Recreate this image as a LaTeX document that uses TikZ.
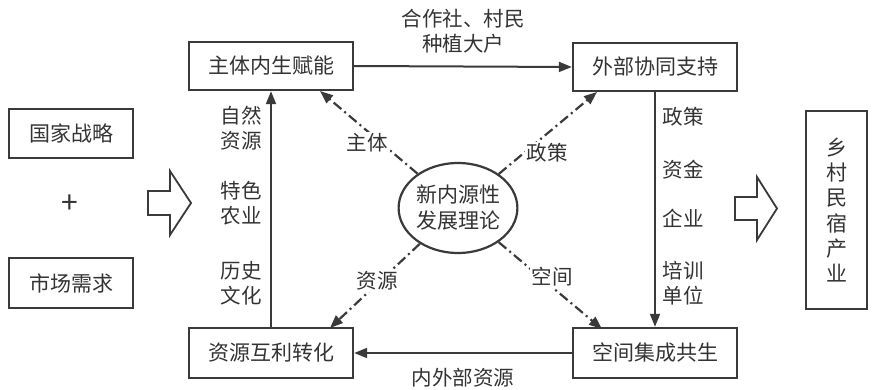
\documentclass[tikz,border=0pt]{standalone}
\usepackage{fontspec}
\setmainfont{Noto Sans CJK SC}
\usetikzlibrary{arrows.meta,shapes.geometric,calc}
\definecolor{ink}{HTML}{3A3A3A}
\definecolor{txt}{HTML}{333333}
\tikzset{
  box/.style={draw=ink,line width=2.4pt,minimum width=164pt,minimum height=48pt,inner sep=0pt,text=txt,font=\fontsize{21}{25}\selectfont},
  lbl/.style={text=txt,font=\fontsize{20.5}{25}\selectfont,align=center,inner sep=1pt},
  dlbl/.style={lbl,fill=white,inner sep=2pt},
  arr/.style={draw=ink,line width=2pt,-{Triangle[length=13pt,width=10pt]}},
  darr/.style={arr,line width=2.2pt,dash pattern=on 10pt off 4pt on 2pt off 4pt},
  blockarrow/.style={draw=ink,line width=1.8pt,fill=white,line join=miter}
}
\begin{document}
\begin{tikzpicture}[x=1pt,y=-1pt]
\useasboundingbox (0,0) rectangle (873,390);
% main boxes
\node[box] (A) at (271,66) {主体内生赋能};
\node[box] (B) at (655,67) {外部协同支持};
\node[box,minimum height=50pt] (C) at (655,353) {空间集成共生};
\node[box,minimum height=50pt] (D) at (271,353) {资源互利转化};
\node[draw=ink,line width=2.2pt,ellipse,minimum width=118pt,minimum height=90pt,inner sep=0pt,text=txt,font=\fontsize{21}{26}\selectfont,align=center] (E) at (458,208) {新内源性\\发展理论};
% left boxes
\node[box,minimum width=124pt,minimum height=49pt] (L1) at (71,133.5) {国家战略};
\node[lbl,font=\fontsize{30}{30}\selectfont] (plus) at (70,204) {+};
\node[box,minimum width=124pt,minimum height=50pt] (L2) at (71,283) {市场需求};
% right box
\node[box,minimum width=61pt,minimum height=198pt,align=center,font=\fontsize{21}{25.2}\selectfont] (R) at (836.5,210) {乡\\村\\民\\宿\\产\\业};
% block arrows
\draw[blockarrow] (148,191) -- (170,191) -- (170,171) -- (191,203) -- (170,235) -- (170,215) -- (148,215) -- cycle;
\draw[blockarrow] (735,197) -- (757,197) -- (757,177) -- (777,208.5) -- (757,240) -- (757,220) -- (735,220) -- cycle;
% solid connectors
\draw[arr] (A.east) -- (B.west);
\node[lbl] (t1) at (463,31) {合作社、村民\\种植大户};
\draw[arr] (B.south) -- (C.north);
\draw[arr] (C.west) -- (D.east);
\node[lbl] (t2) at (463,378) {内外部资源};
\draw[arr] (D.north) -- (A.south);
% labels along vertical arrows
\node[lbl] (l1) at (241,128) {自然\\资源};
\node[lbl] (l2) at (241,203) {特色\\农业};
\node[lbl] (l3) at (241,283) {历史\\文化};
\node[lbl] (r1) at (683,117) {政策};
\node[lbl] (r2) at (683,170) {资金};
\node[lbl] (r3) at (683,218) {企业};
\node[lbl] (r4) at (683,283) {培训\\单位};
% dashed connectors
\coordinate (ea) at (320,91);
\coordinate (eb) at (597,92);
\coordinate (ed) at (330,328);
\coordinate (ec) at (602,329);
\draw[darr] (E) -- (ea);
\draw[darr] (E) -- (eb);
\draw[darr] (E) -- (ed);
\draw[darr] (E) -- (ec);
\node[dlbl] (d1) at (367,143) {主体};
\node[dlbl] (d2) at (547,153) {政策};
\node[dlbl] (d3) at (377,281) {资源};
\node[dlbl] (d4) at (552,277) {空间};
\end{tikzpicture}
\end{document}
